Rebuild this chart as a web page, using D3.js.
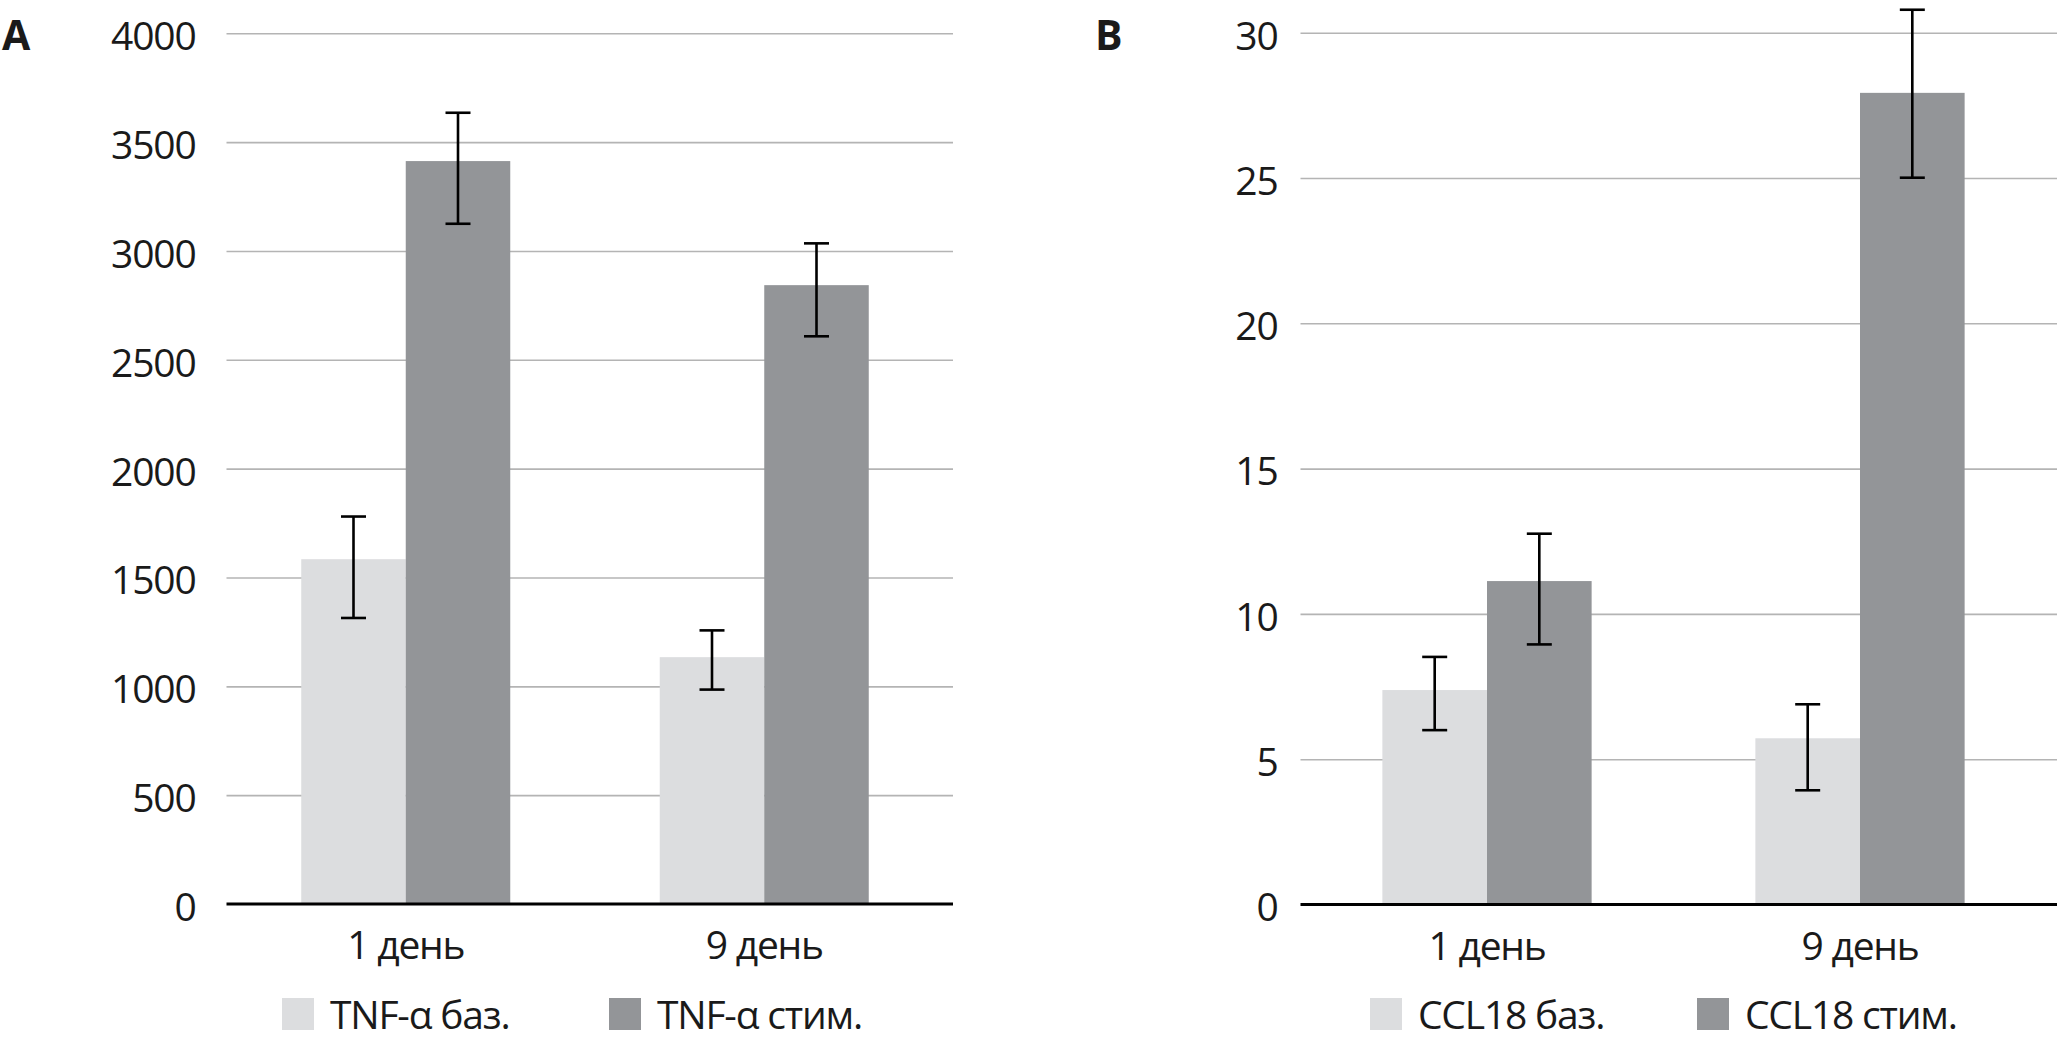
<!DOCTYPE html>
<html>
<head>
<meta charset="utf-8">
<script src="https://cdn.jsdelivr.net/npm/d3@7"></script>
<style>
	body { margin: 0; background: #fff; }
	svg { display: block; }
	text { font-family: 'Open Sans', 'Noto Sans', sans-serif; fill: #1a1a1a; letter-spacing: -1.2px; }
</style>
</head>
<body>
<div id="chart"></div>
<script>
	'use strict';

	// categories
	var days = ['1 день', '9 день'];

	// panel A: TNF-α
	var tnfSeries = ['TNF-α баз.', 'TNF-α стим.'];
	var tnfBase = [1584, 1134];
	var tnfBaseHi = [1780, 1257];
	var tnfBaseLo = [1314, 985];
	var tnfStim = [3413, 2843];
	var tnfStimHi = [3635, 3035];
	var tnfStimLo = [3125, 2608];
	var tnfTicks = [0, 500, 1000, 1500, 2000, 2500, 3000, 3500, 4000];

	// panel B: CCL18
	var cclSeries = ['CCL18 баз.', 'CCL18 стим.'];
	var cclBase = [7.38, 5.72];
	var cclBaseHi = [8.52, 6.89];
	var cclBaseLo = [6.00, 3.93];
	var cclStim = [11.13, 27.93];
	var cclStimHi = [12.76, 30.79];
	var cclStimLo = [8.95, 25.01];
	var cclTicks = [0, 5, 10, 15, 20, 25, 30];

	var colors = ['#dcdddf', '#939598'];

	var svg = d3.select('#chart')
		.append('svg')
		.attr('width', 2057)
		.attr('height', 1044);

	function buildRows(values, hi, lo) {
		return days.map(function (d, i) {
			return {day: d, value: values[i], hi: hi[i], lo: lo[i]};
		});
	}

	function drawPanel(p) {
		var g = svg.append('g');

		var x = d3.scaleBand()
			.domain(days)
			.range([p.left, p.right])
			.paddingInner(p.gap)
			.paddingOuter(p.gap / 2);

		var xs = d3.scaleBand()
			.domain(p.series)
			.range([0, x.bandwidth()]);

		var y = d3.scaleLinear()
			.domain([0, p.max])
			.range([p.bottom, p.top]);

		// gridlines + tick labels
		var yAxis = g.append('g')
			.attr('transform', 'translate(' + p.left + ',0)')
			.call(d3.axisLeft(y)
				.tickValues(p.ticks)
				.tickFormat(d3.format('d'))
				.tickSize(-(p.lineRight - p.left))
				.tickPadding(p.labelGap));
		yAxis.select('.domain').remove();
		yAxis.selectAll('.tick line')
			.attr('stroke', '#b4b4b4')
			.attr('stroke-width', 1.6)
			.filter(function (d) { return d === 0; })
			.remove();
		yAxis.selectAll('.tick text')
			.attr('dy', '0.42em')
			.style('font-size', '39px')
			.style('font-family', null)
			.attr('fill', '#1a1a1a');

		// bars
		var seriesData = p.data.map(function (rows, si) {
			return {key: p.series[si], color: colors[si], rows: rows};
		});

		var groups = g.selectAll('.series')
			.data(seriesData)
			.enter().append('g')
			.attr('class', 'series');

		groups.selectAll('rect')
			.data(function (s) {
				return s.rows.map(function (r) { r.key = s.key; r.color = s.color; return r; });
			})
			.enter().append('rect')
			.attr('x', function (d) { return x(d.day) + xs(d.key); })
			.attr('y', function (d) { return y(d.value); })
			.attr('width', xs.bandwidth())
			.attr('height', function (d) { return y(0) - y(d.value); })
			.attr('fill', function (d) { return d.color; });

		// error bars
		var errs = groups.selectAll('.err')
			.data(function (s) { return s.rows; })
			.enter().append('g')
			.attr('class', 'err')
			.attr('stroke', '#000')
			.attr('stroke-width', 2.6);
		errs.append('line')
			.attr('x1', function (d) { return x(d.day) + xs(d.key) + xs.bandwidth() / 2; })
			.attr('x2', function (d) { return x(d.day) + xs(d.key) + xs.bandwidth() / 2; })
			.attr('y1', function (d) { return y(d.hi); })
			.attr('y2', function (d) { return y(d.lo); });
		['hi', 'lo'].forEach(function (k) {
			errs.append('line')
				.attr('x1', function (d) { return x(d.day) + xs(d.key) + xs.bandwidth() / 2 - 12.5; })
				.attr('x2', function (d) { return x(d.day) + xs(d.key) + xs.bandwidth() / 2 + 12.5; })
				.attr('y1', function (d) { return y(d[k]); })
				.attr('y2', function (d) { return y(d[k]); });
		});

		// category axis
		g.append('line')
			.attr('x1', p.left)
			.attr('x2', p.lineRight)
			.attr('y1', y(0))
			.attr('y2', y(0))
			.attr('stroke', '#000')
			.attr('stroke-width', 2.8);

		var xAxis = g.append('g')
			.attr('transform', 'translate(0,' + y(0) + ')')
			.call(d3.axisBottom(x).tickSize(0).tickPadding(0));
		xAxis.select('.domain').remove();
		xAxis.selectAll('.tick text')
			.attr('y', 55)
			.attr('dy', null)
			.style('font-size', '39px')
			.style('font-family', null)
			.attr('fill', '#1a1a1a');

		// panel letter
		g.append('text')
			.attr('x', p.letterX)
			.attr('y', 50)
			.style('font-size', '41px')
			.style('font-weight', 'bold')
			.text(p.letter);

		// legend
		var leg = g.selectAll('.leg')
			.data(seriesData)
			.enter().append('g')
			.attr('class', 'leg')
			.attr('transform', function (d, i) { return 'translate(' + p.legendX[i] + ',998)'; });
		leg.append('rect')
			.attr('width', 32)
			.attr('height', 32)
			.attr('fill', function (d) { return d.color; });
		leg.append('text')
			.attr('x', 48)
			.attr('y', 31)
			.style('font-size', '39px')
			.text(function (d) { return d.key; });
	}

	drawPanel({
		letter: 'A',
		letterX: 2,
		left: 226.5,
		right: 943.5,
		lineRight: 953,
		top: 33.3,
		bottom: 904,
		max: 4000,
		ticks: tnfTicks,
		labelGap: 31,
		gap: 0.417,
		series: tnfSeries,
		data: [buildRows(tnfBase, tnfBaseHi, tnfBaseLo), buildRows(tnfStim, tnfStimHi, tnfStimLo)],
		legendX: [282, 609]
	});

	drawPanel({
		letter: 'B',
		letterX: 1095,
		left: 1300.5,
		right: 2046.5,
		lineRight: 2057,
		top: 32.7,
		bottom: 904.5,
		max: 30,
		ticks: cclTicks,
		labelGap: 23,
		gap: 0.439,
		series: cclSeries,
		data: [buildRows(cclBase, cclBaseHi, cclBaseLo), buildRows(cclStim, cclStimHi, cclStimLo)],
		legendX: [1370, 1697]
	});
</script>
</body>
</html>
